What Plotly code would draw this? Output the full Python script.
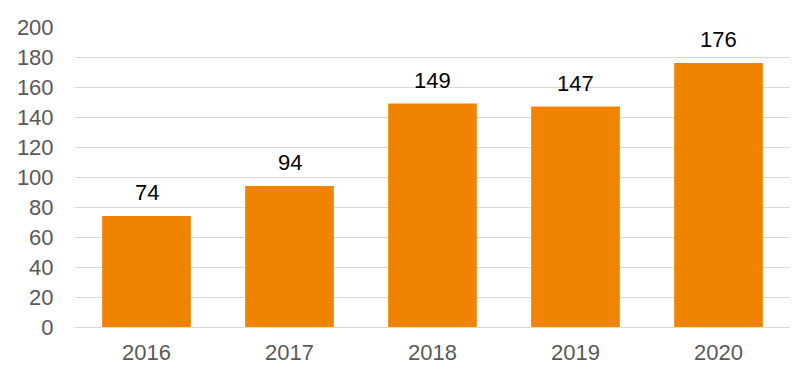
import plotly.graph_objects as go

years = ["2016", "2017", "2018", "2019", "2020"]
values = [74, 94, 149, 147, 176]
y_ticks = [0, 20, 40, 60, 80, 100, 120, 140, 160, 180, 200]

fig = go.Figure()
fig.add_trace(go.Bar(
    x=years, y=values,
    marker=dict(color="#F08300", line=dict(width=0)),
    hoverinfo="skip",
))

for i, v in enumerate(values):
    fig.add_annotation(x=i, y=v, xref="x", yref="y", text=str(v), showarrow=False,
                       yanchor="bottom", yshift=9,
                       font=dict(family="Liberation Sans, Arial", size=22, color="#000000"))

fig.update_layout(
    width=800, height=380,
    margin=dict(l=67, r=18, t=19, b=61),
    paper_bgcolor="white", plot_bgcolor="white",
    bargap=0.38,
    showlegend=False,
    font=dict(family="Liberation Sans, Arial", size=22, color="#595959"),
)
fig.update_xaxes(
    type="category", range=[-0.5, 4.5], automargin=False,
    showgrid=False, showline=False,
    ticks="outside", ticklen=6, tickcolor="rgba(0,0,0,0)",
    tickfont=dict(size=22, color="#595959"),
)
fig.update_yaxes(
    range=[0, 200], tickvals=y_ticks, automargin=False,
    showgrid=True, gridcolor="#D9D9D9", gridwidth=1,
    zeroline=True, zerolinecolor="#D9D9D9", zerolinewidth=1,
    showline=False,
    ticks="outside", ticklen=16, tickcolor="rgba(0,0,0,0)",
    tickfont=dict(size=22, color="#595959"),
)

fig.write_html("out.html")
